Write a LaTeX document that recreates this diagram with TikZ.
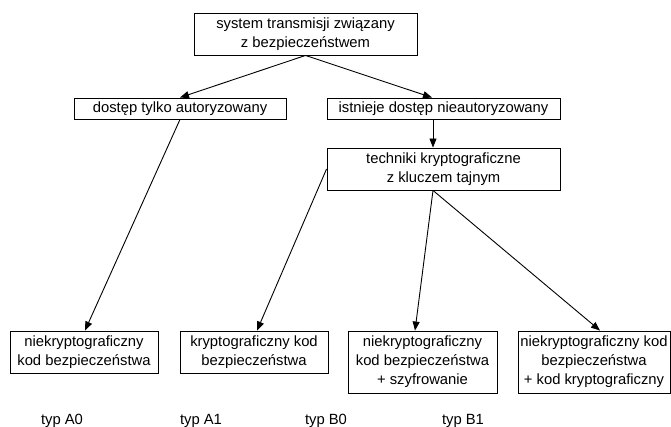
\documentclass[tikz,border=0pt]{standalone}
\usepackage{fontspec}
\setmainfont{Liberation Sans}
\usetikzlibrary{arrows.meta}

\begin{document}
\begin{tikzpicture}[x=1pt,y=-1pt,>={Triangle[length=9pt,width=7pt]},line width=0.9pt]

      \useasboundingbox (0,0) rectangle (671,427);

      \begin{scope}[every node/.style={rectangle,draw,align=center,inner sep=0pt,font=\fontsize{14.8pt}{19pt}\selectfont}]
        \node[minimum width=223pt,minimum height=42pt] (1) at (305.5,34) {system transmisji związany\\z bezpieczeństwem};
        \node[minimum width=212pt,minimum height=21pt] (2) at (180,108.5) {dostęp tylko autoryzowany};
        \node[minimum width=233pt,minimum height=21pt] (3) at (443.5,108.5) {istnieje dostęp nieautoryzowany};
        \node[minimum width=233pt,minimum height=42pt] (4) at (443.5,169) {techniki kryptograficzne\\z kluczem tajnym};
        \node[minimum width=148pt,minimum height=42pt] (5) at (84,352) {niekryptograficzny\\kod bezpieczeństwa};
        \node[minimum width=148pt,minimum height=42pt] (6) at (254,352) {kryptograficzny kod\\bezpieczeństwa};
        \node[minimum width=149pt,minimum height=62pt] (7) at (422.5,362) {niekryptograficzny\\kod bezpieczeństwa\\+ szyfrowanie};
        \node[minimum width=152pt,minimum height=62pt] (8) at (594,362) {niekryptograficzny kod\\bezpieczeństwa\\+ kod kryptograficzny};
      \end{scope}

      \begin{scope}[every node/.style={font=\fontsize{14.8pt}{19pt}\selectfont}]
        \node (A0) at (62,421) {typ A0};
        \node (A1) at (201,421) {typ A1};
        \node (B0) at (326,421) {typ B0};
        \node (B1) at (463,421) {typ B1};
      \end{scope}

      \begin{scope}[every edge/.style={draw,->}]
        \path (1.south) edge (2.north);
        \path (1.south) edge ([xshift=-11.5pt]3.north);
        \path ([xshift=-10.5pt]3.south) edge ([xshift=-10.5pt]4.north);
        \path (2.south) edge ([xshift=1pt]5.north);
        \path (4.west) edge ([xshift=3pt]6.north);
        \path ([xshift=-10.5pt]4.south) edge ([xshift=-7.5pt]7.north);
        \path ([xshift=-10.5pt]4.south) edge ([xshift=6pt]8.north);
      \end{scope}

    \end{tikzpicture}
\end{document}
